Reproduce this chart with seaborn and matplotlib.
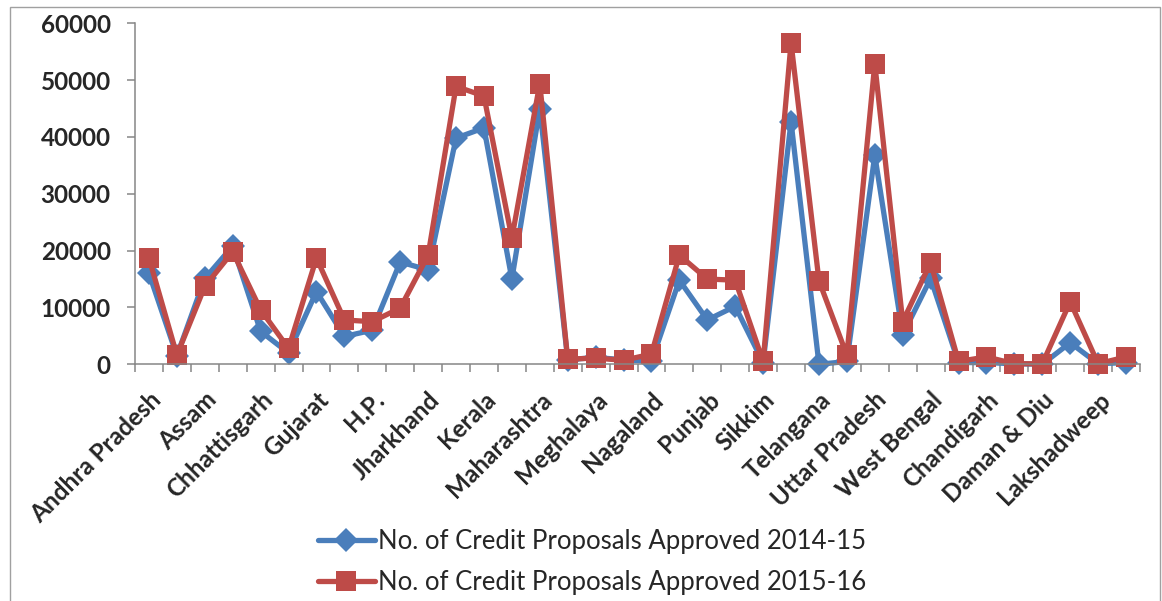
import numpy as np
import pandas as pd
import matplotlib
matplotlib.use("Agg")
import matplotlib.pyplot as plt
import seaborn as sns
from matplotlib.patches import Rectangle
from matplotlib.transforms import ScaledTranslation

# States / UTs in reporting order
states = [
    "Andhra Pradesh", "Arunachal Pradesh", "Assam", "Bihar", "Chhattisgarh",
    "Goa", "Gujarat", "Haryana", "H.P.", "J&K", "Jharkhand", "Karnataka",
    "Kerala", "M.P.", "Maharashtra", "Manipur", "Meghalaya", "Mizoram",
    "Nagaland", "Odisha", "Punjab", "Rajasthan", "Sikkim", "Tamil Nadu",
    "Telangana", "Tripura", "Uttar Pradesh", "Uttarakhand", "West Bengal",
    "A&N Islands", "Chandigarh", "D&N Haveli", "Daman & Diu", "Delhi",
    "Lakshadweep", "Puducherry",
]

approved_2014_15 = [
    16000, 1500, 15100, 20800, 5800, 2000, 12800, 4900, 6000, 18000,
    16600, 39800, 41600, 15000, 45000, 800, 1200, 800, 500, 14800,
    7800, 10200, 300, 42700, 0, 500, 36800, 5200, 15100, 300,
    300, 100, 0, 3800, 100, 300,
]

approved_2015_16 = [
    18700, 1600, 13700, 19800, 9600, 2800, 18700, 7800, 7500, 9900,
    19200, 48900, 47200, 22200, 49400, 900, 1100, 700, 1800, 19200,
    15000, 14800, 500, 56600, 14700, 1600, 52900, 7500, 17900, 500,
    1300, 100, 100, 11000, 100, 1300,
]

label_2014 = "No. of Credit Proposals Approved 2014-15"
label_2015 = "No. of Credit Proposals Approved 2015-16"
y_ticks = [0, 10000, 20000, 30000, 40000, 50000, 60000]

BLUE = "#4A7EBB"
RED = "#BE4B48"
AXIS_GRAY = "#868686"

sns.set_theme(style="white")
plt.rcParams["font.family"] = ["Lato", "DejaVu Sans"]

W, H = 1162, 601
fig = plt.figure(figsize=(W / 100, H / 100), dpi=100)
fig.patch.set_facecolor("white")

# outer chart frame
fig.add_artist(Rectangle((10 / W, -0.05), (1160 - 10) / W, 1 - 6.7 / H + 0.05,
                         transform=fig.transFigure, fill=False,
                         edgecolor="#A0A0A0", linewidth=1.0))

x0, x1 = 135, 1140
y0, y1 = 364.3, 23.3
ax = fig.add_axes([x0 / W, 1 - y0 / H, (x1 - x0) / W, (y0 - y1) / H])

df = pd.DataFrame({
    "pos": np.arange(len(states)),
    "state": states,
    label_2014: approved_2014_15,
    label_2015: approved_2015_16,
})

sns.lineplot(data=df, x="pos", y=label_2014, ax=ax, color=BLUE,
             linewidth=3.8, marker="D", markersize=12, markeredgewidth=0,
             label=label_2014, sort=False)
sns.lineplot(data=df, x="pos", y=label_2015, ax=ax, color=RED,
             linewidth=3.8, marker="s", markersize=14.5, markeredgewidth=0,
             label=label_2015, sort=False)
for ln in ax.lines:
    ln.set_clip_on(False)

ax.set_xlim(-0.5, len(states) - 0.5)
ax.set_ylim(0, 60000)
ax.set_xlabel("")
ax.set_ylabel("")

# category boundary ticks, labels on every other category
ax.set_xticks(np.arange(-0.5, len(states), 1.0))
ax.set_xticklabels([])
ax.set_xticks(np.arange(0, len(states), 2), minor=True)
ax.set_xticklabels(states[::2], minor=True, rotation=45, ha="right",
                   va="top", rotation_mode="anchor", fontweight="bold",
                   fontsize=17.5)
shift = ScaledTranslation(-12 / 100, 0, fig.dpi_scale_trans)
for lbl in ax.get_xticklabels(minor=True):
    lbl.set_transform(lbl.get_transform() + shift)
ax.tick_params(axis="x", which="major", direction="out", length=6,
               width=1.1, color=AXIS_GRAY, bottom=True)
ax.tick_params(axis="x", which="minor", length=0, pad=17, bottom=True)

ax.set_yticks(y_ticks)
ax.set_yticklabels([str(v) for v in y_ticks], fontweight="bold",
                   fontsize=17.5)
ax.tick_params(axis="y", direction="out", length=5.5, width=1.1,
               color=AXIS_GRAY, pad=12, left=True)

for side in ("top", "right"):
    ax.spines[side].set_visible(False)
for side in ("left", "bottom"):
    ax.spines[side].set_color(AXIS_GRAY)
    ax.spines[side].set_linewidth(1.1)

ax.get_legend().remove()
handles, labels = ax.get_legend_handles_labels()
fig.legend(handles, labels, loc="upper left",
           bbox_to_anchor=(318 / W, 1 - 529 / H),
           frameon=False, fontsize=18.5, handlelength=2.2, handletextpad=0.12,
           labelspacing=0.62, borderpad=0, borderaxespad=0, numpoints=1)

fig.savefig("out.png", dpi=100, facecolor="white")
